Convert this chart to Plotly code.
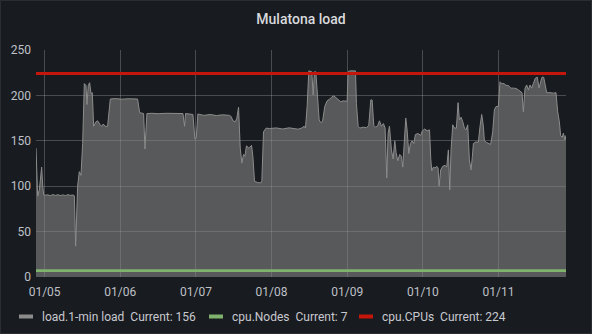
import pandas as pd
import plotly.graph_objects as go

# ---- data -------------------------------------------------------------
BASE = "2021-01-05 00:00"          # first day tick (01/05)

# hours relative to BASE, and the 1-minute load average at those times
hours = [
    -2.74, -2.45, -2.21, -1.68, -1.30, -0.94, -0.60, -0.31, 0.12, 1.0,
    1.8, 2.6, 3.4, 4.2, 5.0, 5.8, 6.6, 7.4, 8.2, 9.0,
    9.42, 9.84, 10.47, 11.0, 11.53, 12.06, 12.59, 13.12, 13.43, 13.85,
    14.28, 14.70, 15.12, 15.55, 16.29, 16.81, 17.55, 18.08, 18.61, 19.14,
    19.98, 20.83, 22.5, 24.5, 26.5, 28.0, 29.49, 30.13, 31.40, 31.82,
    32.45, 34.0, 36.0, 38.58, 43.87, 44.40, 44.71, 47.04, 47.67, 48.09,
    48.62, 50.5, 52.5, 54.5, 56.5, 58.66, 59.19, 59.72, 60.46, 60.99,
    61.52, 62.05, 62.57, 63.10, 63.53, 64.05, 64.69, 65.11, 65.64, 66.06,
    66.59, 67.65, 68.49, 68.91, 69.44, 70.29, 71.34, 73.5, 75.5, 77.5,
    79.5, 80.43, 81.49, 82.33, 82.75, 83.28, 83.81, 84.34, 84.76, 85.19,
    85.61, 86.03, 86.45, 87.09, 87.62, 88.14, 88.88, 89.62, 90.47, 91.0,
    91.74, 92.37, 93.11, 93.96, 94.70, 95.96, 96.28, 96.81, 98.61, 98.92,
    99.45, 99.98, 101.04, 102.09, 102.83, 103.47, 103.89, 104.42, 104.95, 105.58,
    106.22, 106.85, 107.48, 108.01, 108.54, 108.96, 109.39, 110.02, 110.55, 111.08,
    111.50, 112.03, 112.66, 113.19, 113.61, 114.14, 114.56, 114.99, 115.52, 116.04,
    116.57, 117.10, 117.63, 118.47, 119.32, 119.85, 120.59, 121.33, 121.86, 122.1,
    122.5, 122.81, 123.34, 123.87, 124.39, 124.82, 125.13, 125.66, 126.30, 127.04,
    127.56, 128.09, 128.52, 128.94, 129.47, 130.0, 130.63, 131.16, 131.58, 132.11,
    132.64, 133.17, 133.69, 134.22, 134.75, 135.28, 135.70, 136.02, 136.65, 137.60,
    138.13, 138.66, 139.19, 139.51, 140.25, 140.88, 141.51, 142.15, 142.68, 143.20,
    143.94, 144.47, 145.0, 145.74, 146.38, 147.11, 147.85, 148.70, 149.55, 150.29,
    151.02, 151.45, 151.87, 152.40, 152.93, 153.46, 153.98, 154.51, 155.04, 155.67,
    156.31, 156.84, 157.26, 157.79, 158.32, 158.85, 159.27, 160.32, 161.38, 162.23,
    162.76, 163.29, 163.71, 164.24, 164.56, 165.08, 165.40,
]
load = [
    142, 118, 89, 96, 110, 121, 100, 90.5, 90, 90.5,
    89.5, 90.8, 89.8, 90.6, 89.7, 90.4, 89.6, 90.7, 89.9, 90.3,
    89.5, 34, 100, 116, 112, 147, 213, 211, 190, 211,
    214, 202, 203, 166, 171, 172, 168, 166, 168.5, 166,
    166, 196, 196.5, 195.8, 196.3, 196, 196, 181, 180, 141,
    180, 180.3, 179.8, 180.3, 180, 166, 180, 179, 152, 153,
    179.5, 178, 179, 177.8, 178.6, 178, 176.7, 172, 171, 175,
    187, 142, 125.5, 135, 133, 144.5, 142, 143, 145, 133,
    105.3, 104, 103.5, 106, 160, 164, 163.5, 164.2, 163, 164.3,
    163.2, 162.8, 164, 166, 164, 188, 227, 226, 226, 200.5,
    226, 226, 199, 173, 170, 171, 188, 194, 196, 198,
    199.5, 197.5, 196, 193, 194, 193.5, 226, 227, 227, 191,
    166, 164, 165, 164.5, 167, 195, 195, 167, 165, 166,
    172, 166, 169, 164, 109, 158, 166, 140, 130, 150,
    137, 128, 135, 133, 121, 150, 175, 162, 136, 147,
    150, 147, 157, 158, 156, 161, 163, 161, 162, 162,
    130, 117, 121, 120, 122, 120, 100, 118, 122, 123,
    121, 140, 96, 140, 167.6, 164, 164, 192, 173, 176,
    171, 164, 162, 167.6, 129, 118, 133, 147, 148.6, 148.6,
    166, 179, 166, 150, 148, 147, 146, 160, 184, 187.7,
    188, 215, 213, 213, 211, 211, 208, 208, 207.7, 206,
    204, 203, 182, 208, 211.5, 206, 211.5, 208, 213, 219,
    220, 208, 213.6, 220, 220, 210, 203, 203, 202.5, 203,
    182, 171, 155.5, 154, 158.4, 151, 156,
]

# constant series over the whole window
nodes = [7, 7]
cpus = [224, 224]

y_ticks = [0, 50, 100, 150, 200, 250]

# ---- derived time axis ---------------------------------------------------
times = pd.Timestamp(BASE) + pd.to_timedelta(hours, unit="h")
span = [times[0], times[-1]]

# ---- styling --------------------------------------------------------------
BG = "#181b1f"
FONT = "Roboto"
W, H = 592, 334
M = dict(l=36, r=26, t=50, b=57)
PW, PH = W - M["l"] - M["r"], H - M["t"] - M["b"]


def px_x(px):
    return (px - M["l"]) / PW


def px_y(py):
    return (H - M["b"] - py) / PH


fig = go.Figure()

fig.add_trace(go.Scatter(
    x=times, y=load, name="load.1-min load", mode="lines",
    line=dict(color="rgb(140,140,140)", width=1),
    fill="tozeroy", fillcolor="rgba(140,140,140,0.55)",
))
fig.add_trace(go.Scatter(
    x=span, y=nodes, name="cpu.Nodes", mode="lines",
    line=dict(color="#7eb26d", width=2.6),
))
fig.add_trace(go.Scatter(
    x=span, y=cpus, name="cpu.CPUs", mode="lines",
    line=dict(color="#c4160a", width=3),
))

# legend drawn as swatch + text rows under the plot
legend_rows = [
    ("load.1-min load", load[-1], "#8c8c8c", 19),
    ("cpu.Nodes", nodes[-1], "#7eb26d", 209),
    ("cpu.CPUs", cpus[-1], "#c4160a", 359),
]
shapes = []
annotations = []
LEG_Y = 316.5
for name, cur, col, x0 in legend_rows:
    shapes.append(dict(
        type="line", xref="paper", yref="paper",
        x0=px_x(x0), x1=px_x(x0 + 14), y0=px_y(LEG_Y), y1=px_y(LEG_Y),
        line=dict(color=col, width=4),
    ))
    annotations.append(dict(
        xref="paper", yref="paper", x=px_x(x0 + 21), y=px_y(LEG_Y),
        xanchor="left", yanchor="middle", showarrow=False,
        text=f"{name}\u00a0\u00a0Current: {cur:g}",
        font=dict(family=FONT, size=12, color="#c8c9d0"),
    ))

# panel outline
shapes.append(dict(
    type="rect", xref="paper", yref="paper", layer="below",
    x0=px_x(0.5), x1=px_x(W - 0.5), y0=px_y(H - 0.5), y1=px_y(0.5),
    line=dict(color="rgba(204,204,220,0.10)", width=1),
))

fig.update_layout(
    width=W, height=H, margin=M,
    paper_bgcolor=BG, plot_bgcolor=BG,
    showlegend=False,
    title=dict(
        text="Mulatona load", x=0.5, xref="paper", xanchor="center",
        y=1 - 19 / H, yref="container", yanchor="middle",
        font=dict(family=FONT, size=14, color="#d8d9dc", weight=500),
    ),
    font=dict(family=FONT, size=12, color="#bfc0c8"),
    xaxis=dict(
        type="date", range=span, tickformat="%m/%d",
        tick0=BASE, dtick=86400000,
        showgrid=True, gridcolor="rgba(200,200,210,0.28)", gridwidth=1,
        zeroline=False, showline=False, ticks="",
        ticklabelstandoff=6,
        tickfont=dict(family=FONT, size=12, color="#bfc0c8"),
    ),
    yaxis=dict(
        range=[0, 250], tickvals=y_ticks,
        showgrid=True, gridcolor="rgba(200,200,210,0.28)", gridwidth=1,
        zeroline=False, showline=False, ticks="",
        ticklabelstandoff=4,
        tickfont=dict(family=FONT, size=12, color="#bfc0c8"),
    ),
    shapes=shapes, annotations=annotations,
)

fig.write_html("out.html")
